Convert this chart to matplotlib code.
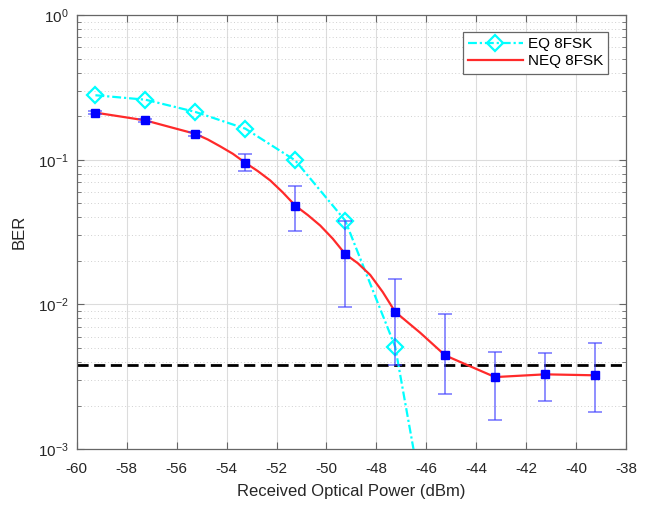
import math
import matplotlib
matplotlib.use("Agg")
import matplotlib.pyplot as plt
import matplotlib.ticker as ticker

plt.rcParams['font.family'] = ['Liberation Sans', 'DejaVu Sans']
plt.rcParams['mathtext.default'] = 'regular'
plt.rcParams['axes.unicode_minus'] = False

# received optical power (dBm)
power = [-59.25, -57.25, -55.25, -53.25, -51.25, -49.25, -47.25,
         -45.25, -43.25, -41.25, -39.25]

# EQ 8FSK (last point falls below the axis)
eq_power = [-59.25, -57.25, -55.25, -53.25, -51.25, -49.25, -47.25, -45.25]
eq_ber = [0.279, 0.260, 0.214, 0.164, 0.0989, 0.038, 0.0051, 6.0e-5]

# NEQ 8FSK mean and error range
neq_ber = [0.2116, 0.187, 0.151, 0.0953, 0.0482, 0.0223, 0.00889,
           0.00445, 0.00315, 0.00329, 0.00324]
neq_upper = [0.216, 0.191, 0.156, 0.109, 0.0656, 0.038, 0.0150,
             0.00866, 0.00472, 0.00465, 0.00544]
neq_lower = [0.207, 0.183, 0.146, 0.0834, 0.0324, 0.0096, 0.00381,
             0.00239, 0.00159, 0.00215, 0.00180]

# smooth fitted NEQ curve
fit_power = [-59.25, -58.25, -57.25, -56.25, -55.25, -54.75, -54.25, -53.75,
             -53.25, -52.75, -52.25, -51.75, -51.25, -50.75, -50.25, -49.75,
             -49.25, -48.75, -48.25, -47.75, -47.25, -46.25, -45.25, -44.25,
             -43.25, -41.25, -39.25]
fit_ber = [0.2116, 0.199, 0.187, 0.168, 0.151, 0.138, 0.1236, 0.110,
           0.0953, 0.0835, 0.0719, 0.0595, 0.0482, 0.0415, 0.0351, 0.0285,
           0.0223, 0.0193, 0.0160, 0.0122, 0.00889, 0.00638, 0.00445, 0.00374,
           0.00315, 0.00329, 0.00324]

fec_limit = 3.8e-3

fig = plt.figure(figsize=(6.57, 5.09), dpi=100)
ax = fig.add_axes([0.1167, 0.1175, 0.8365, 0.853])

ax.plot(eq_power, eq_ber, color='cyan', lw=1.6,
        linestyle=(0, (4, 1.3, 1, 1.3)), marker='D', ms=8,
        mfc='none', mec='cyan', mew=1.6, label='EQ 8FSK', zorder=3)
ax.plot(fit_power, fit_ber, color='#ff2a2a', lw=1.6, label='NEQ 8FSK', zorder=4)

yerr = [[m - lo for m, lo in zip(neq_ber, neq_lower)],
        [hi - m for m, hi in zip(neq_ber, neq_upper)]]
ax.errorbar(power, neq_ber, yerr=yerr, fmt='s', color='#0000ff', ms=6,
            ecolor=(0.25, 0.25, 1.0, 0.75), elinewidth=1.1, capsize=5,
            capthick=1.1, zorder=5)

ax.axhline(fec_limit, color='black', lw=2, linestyle=(0, (4, 2)), zorder=2)

ax.set_yscale('log')
ax.set_xlim(-60, -38)
ax.set_ylim(1e-3, 1)
ax.set_xticks(range(-60, -37, 2))
ax.yaxis.set_major_locator(ticker.LogLocator(base=10, numticks=10))
ax.yaxis.set_minor_locator(ticker.LogLocator(base=10, subs=range(2, 10), numticks=10))
ax.yaxis.set_major_formatter(ticker.FuncFormatter(
    lambda v, p: r'$10^{%d}$' % round(math.log10(v))))
ax.yaxis.set_minor_formatter(ticker.NullFormatter())

ax.grid(True, which='major', color='#dcdcdc', lw=0.8)
ax.grid(True, which='minor', axis='y', color='#d0d0d0', lw=0.7, linestyle=(0, (1, 2.5)))
ax.set_axisbelow(True)

for s in ax.spines.values():
    s.set_color('#666666')
    s.set_linewidth(0.9)
ax.tick_params(which='both', direction='in', top=True, right=True,
               colors='#666666', labelcolor='#262626', labelsize=11)
ax.tick_params(which='major', length=5)
ax.tick_params(which='minor', length=3)
ax.tick_params(axis='x', pad=9)
ax.tick_params(axis='y', pad=6)

ax.set_xlabel('Received Optical Power (dBm)', fontsize=12, color='#262626', labelpad=6)
ax.set_ylabel('BER', fontsize=12, color='#262626', labelpad=8)

leg = ax.legend(loc='upper right', bbox_to_anchor=(0.967, 0.961), fontsize=11,
                handlelength=3.6, fancybox=False, framealpha=1,
                edgecolor='#666666', borderpad=0.35, labelspacing=0.2,
                handletextpad=0.3, borderaxespad=0)
leg.get_frame().set_linewidth(0.9)

fig.savefig('out.png', dpi=100)
